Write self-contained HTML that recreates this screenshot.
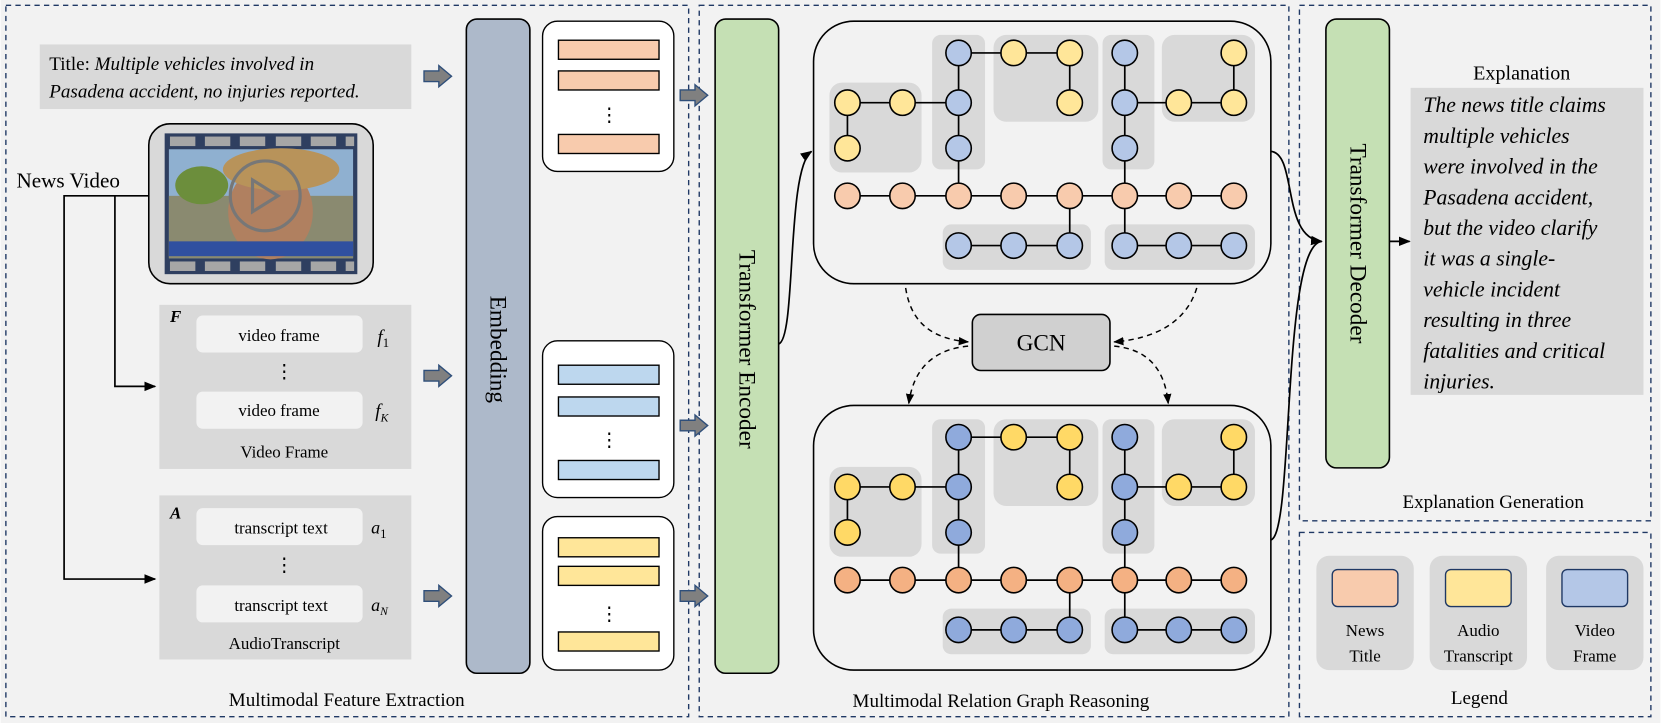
<!DOCTYPE html>
<html><head><meta charset="utf-8"><style>
html,body{margin:0;padding:0;background:#fff}
svg{display:block;font-family:"Liberation Serif","Times New Roman",serif}
text,tspan{font-family:"Liberation Serif","Times New Roman",serif;fill:#000}
.n{stroke:#000;stroke-width:1.5}
.y{fill:var(--y)}.b{fill:var(--b)}.s{fill:var(--s)}
.g{fill:#d9d9d9}
.e{stroke:#000;stroke-width:1.6;fill:none}
</style></head><body>
<svg width="1661" height="723" viewBox="0 0 1568 683" xmlns="http://www.w3.org/2000/svg" font-family="Liberation Serif, serif">
<defs>
<marker id="ar" viewBox="0 0 10 10" refX="9" refY="5" markerWidth="7" markerHeight="7" orient="auto"><path d="M0,1 L10,5 L0,9 z" fill="#000"/></marker>
<g id="fat"><path d="M0,-5 L14,-5 L14,-10 L26,0 L14,10 L14,5 L0,5 z" fill="#808080" stroke="#2f4f7a" stroke-width="1.3"/></g>
<g id="graph">
<rect x="783" y="78" width="87" height="85" rx="12" class="g"/>
<rect x="880" y="33" width="50" height="127" rx="8" class="g"/>
<rect x="938" y="33" width="99" height="82" rx="12" class="g"/>
<rect x="1041" y="33" width="49" height="127" rx="8" class="g"/>
<rect x="1097" y="33" width="88" height="82" rx="12" class="g"/>
<rect x="890" y="212" width="140" height="43" rx="8" class="g"/>
<rect x="1043" y="212" width="142" height="43" rx="8" class="g"/>
<path class="e" d="M800,97 H905 M800,97 V140 M905,50 V185 M905,50 H1010 V97 M1062,50 V185 M1062,97 H1165 V50 M800,185 H1165 M1010,185 V232 M905,232 H1010 M1062,185 V232 H1165"/>
<circle class="n y" cx="800" cy="97" r="12"/><circle class="n y" cx="852" cy="97" r="12"/><circle class="n y" cx="800" cy="140" r="12"/>
<circle class="n b" cx="905" cy="50" r="12"/><circle class="n b" cx="905" cy="97" r="12"/><circle class="n b" cx="905" cy="140" r="12"/>
<circle class="n y" cx="957" cy="50" r="12"/><circle class="n y" cx="1010" cy="50" r="12"/><circle class="n y" cx="1010" cy="97" r="12"/>
<circle class="n b" cx="1062" cy="50" r="12"/><circle class="n b" cx="1062" cy="97" r="12"/><circle class="n b" cx="1062" cy="140" r="12"/>
<circle class="n y" cx="1113" cy="97" r="12"/><circle class="n y" cx="1165" cy="97" r="12"/><circle class="n y" cx="1165" cy="50" r="12"/>
<circle class="n s" cx="800" cy="185" r="12"/><circle class="n s" cx="852" cy="185" r="12"/><circle class="n s" cx="905" cy="185" r="12"/><circle class="n s" cx="957" cy="185" r="12"/><circle class="n s" cx="1010" cy="185" r="12"/><circle class="n s" cx="1062" cy="185" r="12"/><circle class="n s" cx="1113" cy="185" r="12"/><circle class="n s" cx="1165" cy="185" r="12"/>
<circle class="n b" cx="905" cy="232" r="12"/><circle class="n b" cx="957" cy="232" r="12"/><circle class="n b" cx="1010" cy="232" r="12"/>
<circle class="n b" cx="1062" cy="232" r="12"/><circle class="n b" cx="1113" cy="232" r="12"/><circle class="n b" cx="1165" cy="232" r="12"/>
</g>
</defs>
<rect width="1568" height="683" fill="#f2f2f2"/>
<g fill="none" stroke="#1f3864" stroke-width="1.3" stroke-dasharray="5,4">
<rect x="5" y="5" width="645" height="672"/>
<rect x="660" y="5" width="557" height="672"/>
<rect x="1227" y="5" width="332" height="487"/>
<rect x="1227" y="503" width="332" height="174"/>
</g>
<!-- left panel -->
<rect x="37" y="42" width="351" height="61" fill="#d9d9d9"/>
<text x="46" y="66" font-size="18">Title: <tspan font-style="italic">Multiple vehicles involved in</tspan></text>
<text x="46" y="92" font-size="18" font-style="italic">Pasadena accident, no injuries reported.</text>
<use href="#fat" x="400" y="72"/>
<rect x="140" y="117" width="212" height="151" rx="20" fill="#d9d9d9" stroke="#000" stroke-width="1.5"/>
<rect x="155" y="126" width="182" height="133" fill="#2f3f60"/>
<g fill="#a6a6a6"><rect x="160" y="129" width="24" height="9"/><rect x="193" y="129" width="24" height="9"/><rect x="226" y="129" width="24" height="9"/><rect x="260" y="129" width="24" height="9"/><rect x="293" y="129" width="24" height="9"/><rect x="326" y="129" width="8" height="9"/>
<rect x="160" y="247" width="24" height="9"/><rect x="193" y="247" width="24" height="9"/><rect x="226" y="247" width="24" height="9"/><rect x="260" y="247" width="24" height="9"/><rect x="293" y="247" width="24" height="9"/><rect x="326" y="247" width="8" height="9"/></g>
<rect x="159" y="141" width="174" height="103" fill="#8fb0d0"/>
<rect x="159" y="185" width="174" height="59" fill="#8a8a70"/>
<ellipse cx="190" cy="175" rx="25" ry="18" fill="#6c8e3c"/>
<ellipse cx="255" cy="200" rx="40" ry="45" fill="#b08060"/>
<ellipse cx="265" cy="160" rx="55" ry="20" fill="#b8935a"/>
<rect x="159" y="228" width="174" height="14" fill="#3050a0"/>
<circle cx="250" cy="185" r="33" fill="none" stroke="#777" stroke-width="3"/>
<path d="M238,170 L262,185 L238,200 z" fill="none" stroke="#777" stroke-width="3"/>
<text x="15" y="177" font-size="20">News Video</text>
<path class="e" d="M140,185 H60 V547 H146" marker-end="url(#ar)"/>
<path class="e" d="M108,185 V365 H146" marker-end="url(#ar)"/>
<rect x="150" y="288" width="238" height="155" fill="#d9d9d9"/>
<text x="160" y="304" font-size="16" font-weight="bold" font-style="italic">F</text>
<rect x="185" y="298" width="157" height="35" rx="6" fill="#f2f2f2"/>
<text x="263" y="322" font-size="16" text-anchor="middle">video frame</text>
<text x="268" y="357" font-size="18" text-anchor="middle">⋮</text>
<rect x="185" y="370" width="157" height="35" rx="6" fill="#f2f2f2"/>
<text x="263" y="393" font-size="16" text-anchor="middle">video frame</text>
<text x="356" y="324" font-size="18" font-style="italic">f<tspan font-size="12" dy="4" font-style="normal">1</tspan></text>
<text x="354" y="394" font-size="18" font-style="italic">f<tspan font-size="11" dy="4">K</tspan></text>
<text x="268" y="432" font-size="16" text-anchor="middle">Video Frame</text>
<use href="#fat" x="400" y="355"/>
<rect x="150" y="468" width="238" height="155" fill="#d9d9d9"/>
<text x="160" y="490" font-size="16" font-weight="bold" font-style="italic">A</text>
<rect x="185" y="480" width="157" height="35" rx="6" fill="#f2f2f2"/>
<text x="265" y="504" font-size="16" text-anchor="middle">transcript text</text>
<text x="268" y="540" font-size="18" text-anchor="middle">⋮</text>
<rect x="185" y="553" width="157" height="35" rx="6" fill="#f2f2f2"/>
<text x="265" y="577" font-size="16" text-anchor="middle">transcript text</text>
<text x="350" y="504" font-size="17" font-style="italic">a<tspan font-size="12" dy="4" font-style="normal">1</tspan></text>
<text x="350" y="577" font-size="17" font-style="italic">a<tspan font-size="11" dy="4">N</tspan></text>
<text x="268" y="613" font-size="16" text-anchor="middle">AudioTranscript</text>
<use href="#fat" x="400" y="563"/>
<rect x="440" y="18" width="60" height="618" rx="10" fill="#adb9ca" stroke="#000" stroke-width="1.5"/>
<text transform="translate(463,330) rotate(90)" font-size="22" text-anchor="middle">Embedding</text>
<g stroke="#000" stroke-width="1.3">
<rect x="512" y="20" width="124" height="142" rx="14" fill="#fff"/>
<rect x="527" y="38" width="95" height="18" fill="#f8cbad"/><rect x="527" y="67" width="95" height="18" fill="#f8cbad"/><rect x="527" y="127" width="95" height="18" fill="#f8cbad"/>
<rect x="512" y="322" width="124" height="148" rx="14" fill="#fff"/>
<rect x="527" y="345" width="95" height="18" fill="#bdd7ee"/><rect x="527" y="375" width="95" height="18" fill="#bdd7ee"/><rect x="527" y="435" width="95" height="18" fill="#bdd7ee"/>
<rect x="512" y="488" width="124" height="145" rx="14" fill="#fff"/>
<rect x="527" y="508" width="95" height="18" fill="#ffe699"/><rect x="527" y="535" width="95" height="18" fill="#ffe699"/><rect x="527" y="597" width="95" height="18" fill="#ffe699"/>
</g>
<text x="575" y="115" font-size="18" text-anchor="middle">⋮</text>
<text x="575" y="422" font-size="18" text-anchor="middle">⋮</text>
<text x="575" y="586" font-size="18" text-anchor="middle">⋮</text>
<use href="#fat" x="642" y="90"/><use href="#fat" x="642" y="402"/><use href="#fat" x="642" y="563"/>
<text x="327" y="667" font-size="18" text-anchor="middle">Multimodal Feature Extraction</text>
<!-- middle -->
<rect x="675" y="18" width="60" height="618" rx="10" fill="#c5e0b4" stroke="#000" stroke-width="1.5"/>
<text transform="translate(698,330) rotate(90)" font-size="22" text-anchor="middle">Transformer Encoder</text>
<path class="e" d="M735,325 C752,320 742,160 766,143" marker-end="url(#ar)"/>
<rect x="768" y="20" width="432" height="248" rx="38" fill="#f2f2f2" stroke="#000" stroke-width="1.5"/>
<use href="#graph" style="--y:#ffe699;--b:#b4c7e7;--s:#f8cbad"/>
<rect x="768" y="383" width="432" height="250" rx="38" fill="#f2f2f2" stroke="#000" stroke-width="1.5"/>
<use href="#graph" y="363" style="--y:#ffd966;--b:#8faadc;--s:#f4b183"/>
<rect x="918" y="297" width="130" height="53" rx="8" fill="#d0d0d0" stroke="#000" stroke-width="1.5"/>
<text x="983" y="331" font-size="22" text-anchor="middle">GCN</text>
<g stroke="#000" stroke-width="1.4" fill="none" stroke-dasharray="5,4" marker-end="url(#ar)">
<path d="M855,272 C860,305 880,320 914,323"/>
<path d="M1130,272 C1120,305 1090,320 1052,323"/>
<path d="M914,327 C880,330 862,350 858,381"/>
<path d="M1052,327 C1085,330 1100,350 1103,381"/>
</g>
<text x="945" y="668" font-size="18" text-anchor="middle">Multimodal Relation Graph Reasoning</text>
<!-- right -->
<path class="e" d="M1200,143 C1225,145 1210,225 1248,228" marker-end="url(#ar)"/>
<path class="e" d="M1200,510 C1222,505 1210,232 1248,228"/>
<rect x="1252" y="18" width="60" height="424" rx="10" fill="#c5e0b4" stroke="#000" stroke-width="1.5"/>
<text transform="translate(1275,230) rotate(90)" font-size="22" text-anchor="middle">Transformer Decoder</text>
<path class="e" d="M1312,228 H1331" marker-end="url(#ar)"/>
<text x="1437" y="75" font-size="19" text-anchor="middle">Explanation</text>
<rect x="1332" y="83" width="220" height="290" fill="#d9d9d9"/>
<g font-size="20.5" font-style="italic">
<text x="1344" y="106">The news title claims</text>
<text x="1344" y="135">multiple vehicles</text>
<text x="1344" y="164">were involved in the</text>
<text x="1344" y="193">Pasadena accident,</text>
<text x="1344" y="222">but the video clarify</text>
<text x="1344" y="251">it was a single-</text>
<text x="1344" y="280">vehicle incident</text>
<text x="1344" y="309">resulting in three</text>
<text x="1344" y="338">fatalities and critical</text>
<text x="1344" y="367">injuries.</text>
</g>
<text x="1410" y="480" font-size="18" text-anchor="middle">Explanation Generation</text>
<rect x="1243" y="525" width="92" height="108" rx="12" fill="#d9d9d9"/>
<rect x="1350" y="525" width="92" height="108" rx="12" fill="#d9d9d9"/>
<rect x="1460" y="525" width="92" height="108" rx="12" fill="#d9d9d9"/>
<g stroke="#1f3864" stroke-width="1.3">
<rect x="1258" y="538" width="62" height="35" rx="5" fill="#f8cbad"/>
<rect x="1365" y="538" width="62" height="35" rx="5" fill="#ffe699"/>
<rect x="1475" y="538" width="62" height="35" rx="5" fill="#b4c7e7"/>
</g>
<g font-size="16" text-anchor="middle">
<text x="1289" y="601">News</text><text x="1289" y="625">Title</text>
<text x="1396" y="601">Audio</text><text x="1396" y="625">Transcript</text>
<text x="1506" y="601">Video</text><text x="1506" y="625">Frame</text>
</g>
<text x="1397" y="665" font-size="18" text-anchor="middle">Legend</text>
</svg>
</body></html>
